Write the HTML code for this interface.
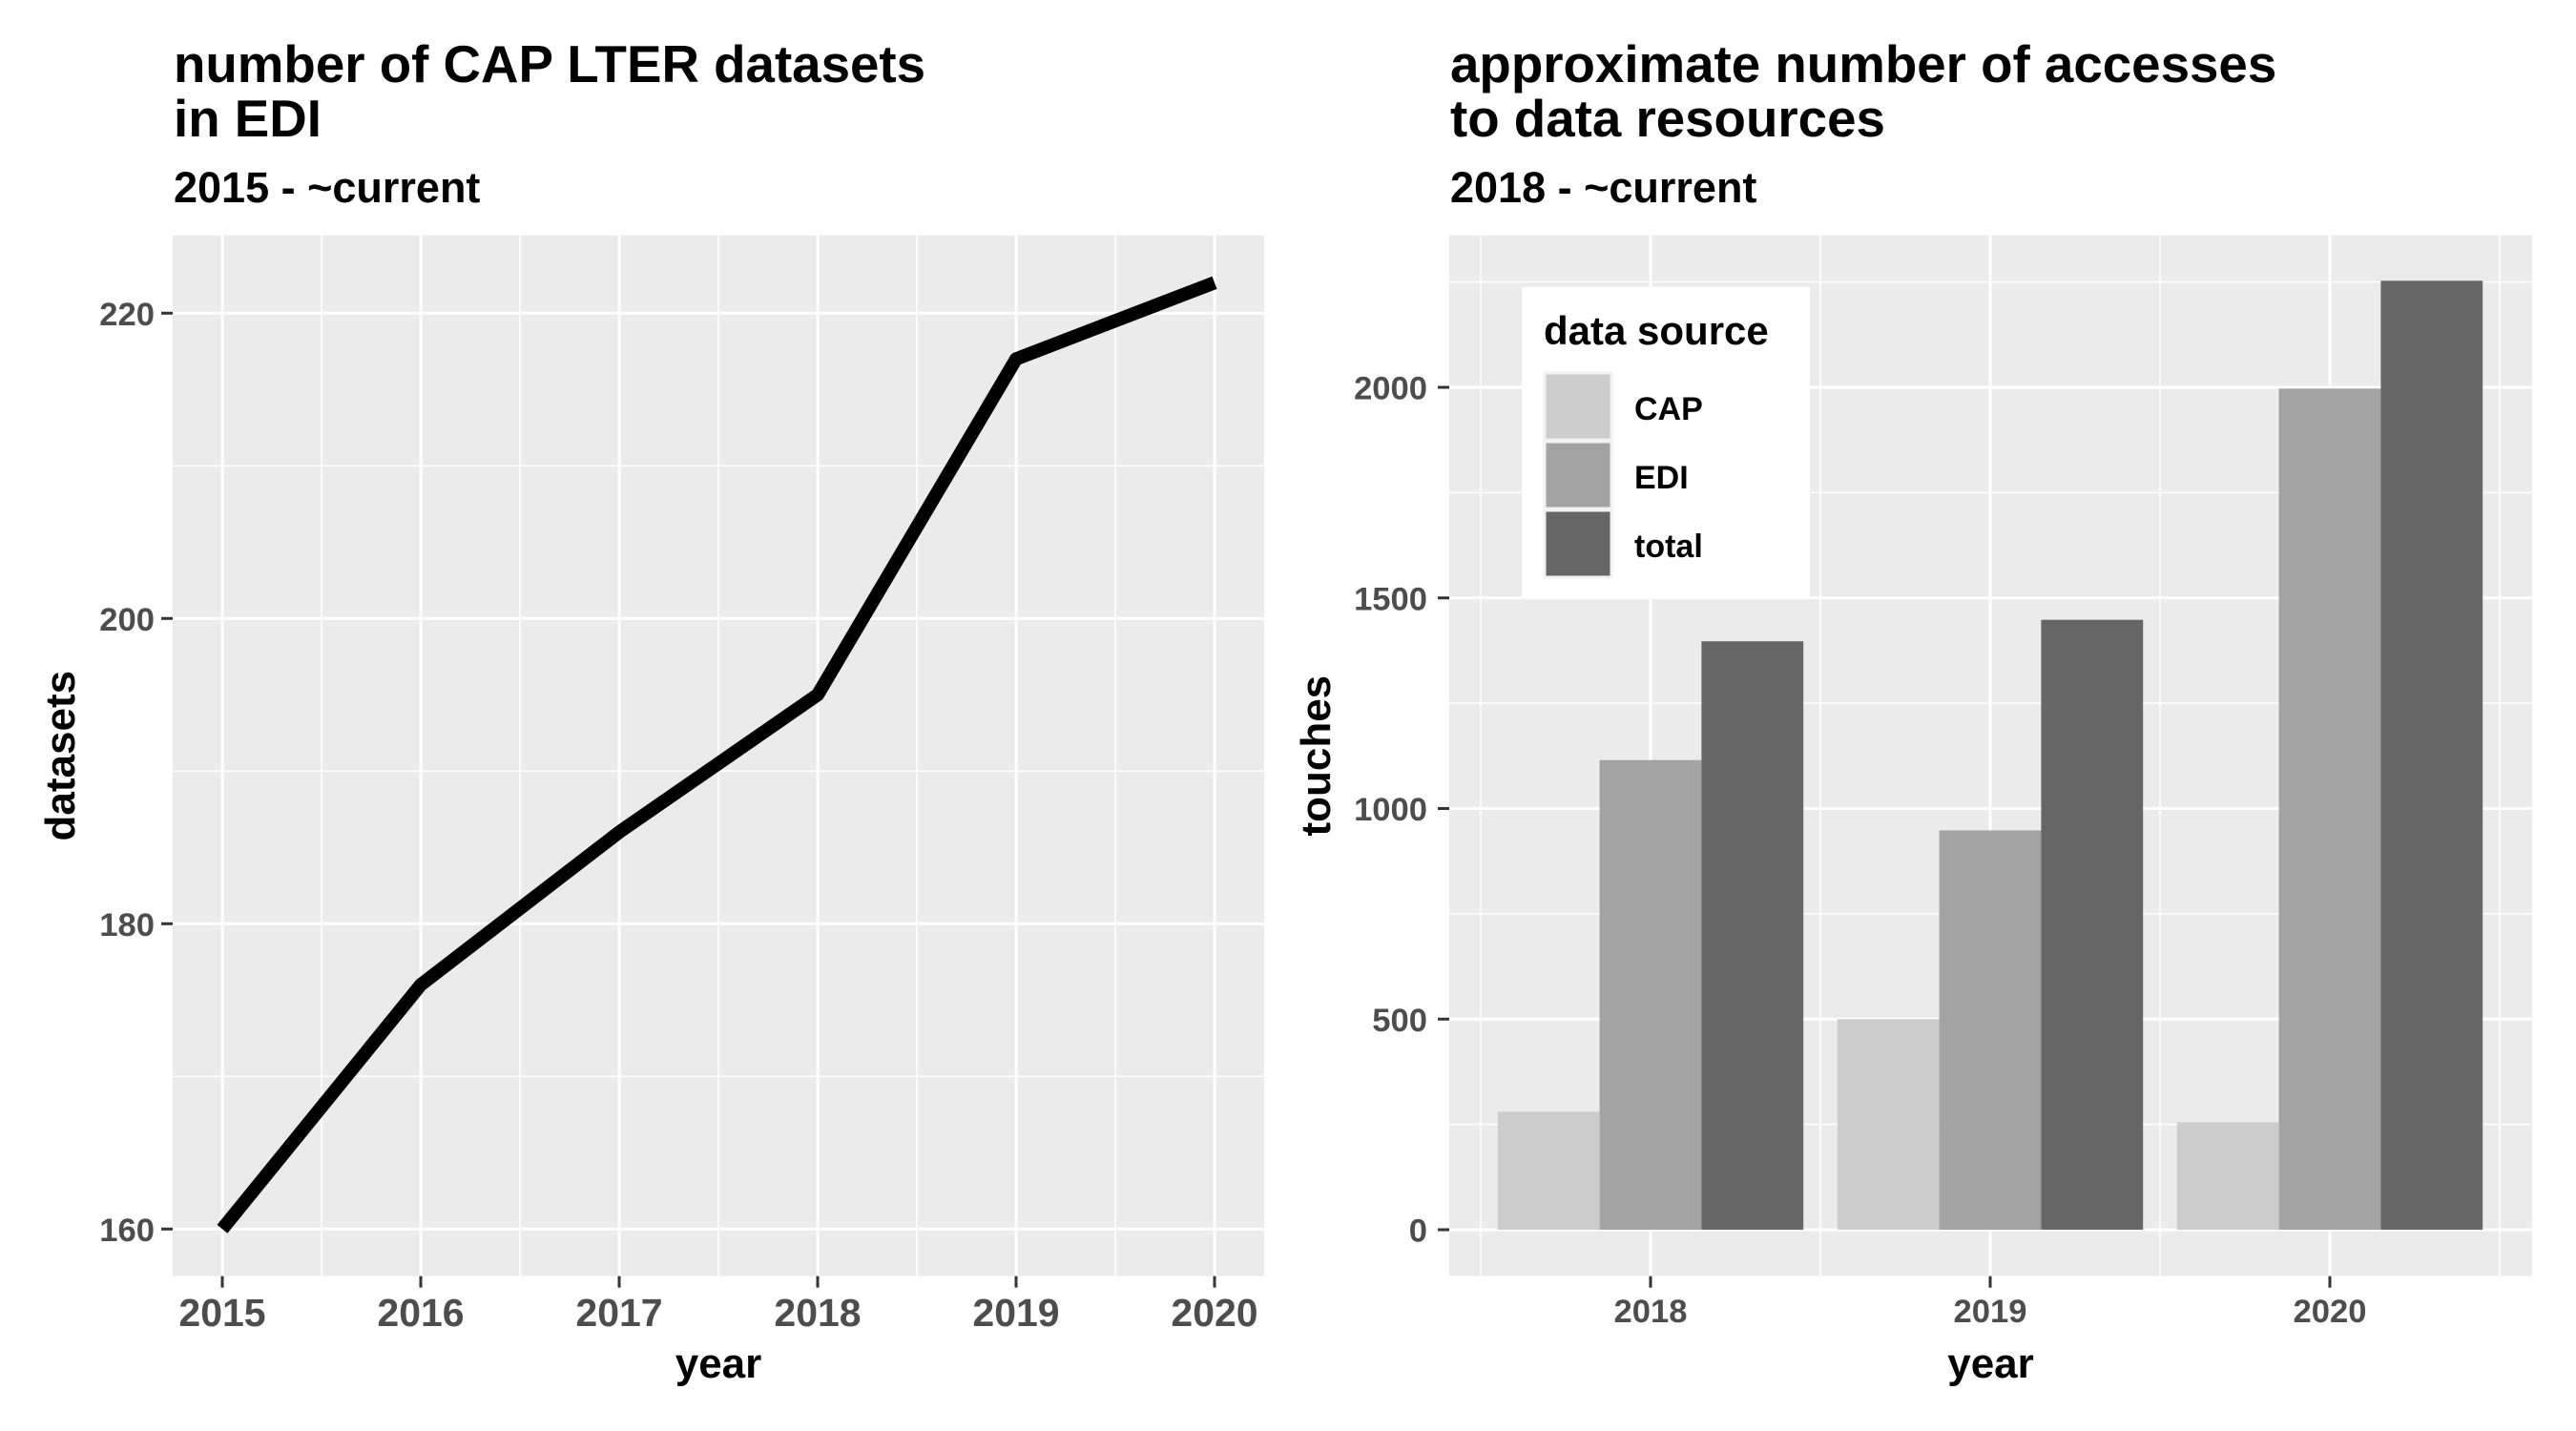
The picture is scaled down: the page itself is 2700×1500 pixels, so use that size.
<!DOCTYPE html>
<html><head><meta charset="utf-8"><style>
html,body{margin:0;padding:0;background:#fff;}
svg{display:block;font-family:"Liberation Sans",sans-serif;font-weight:bold;}
</style></head><body>
<svg id="fig" width="2700" height="1500" viewBox="0 0 2700 1500">
<g id="left"></g>
<g id="right"></g>
</svg>
<script>
const years1 = [2015, 2016, 2017, 2018, 2019, 2020];
const datasets = [160, 176, 186, 195, 217, 222];
const yTicks1 = [160, 180, 200, 220];
const years2 = ["2018", "2019", "2020"];
const sources = ["CAP", "EDI", "total"];
const capVals = [280, 500, 255];
const ediVals = [1115, 948, 1997];
const totalVals = [1397, 1448, 2253];
const yTicks2 = [0, 500, 1000, 1500, 2000];
const colors = ["#cccccc", "#a3a3a3", "#666666"];

const NS = "http://www.w3.org/2000/svg";
function mk(parent, tag, attrs, text) {
  const e = document.createElementNS(NS, tag);
  for (const k in attrs) e.setAttribute(k, attrs[k]);
  if (text !== undefined) e.textContent = text;
  parent.appendChild(e);
  return e;
}

// ---------- LEFT ----------
const L = document.getElementById('left');
const lp = {x0: 181, x1: 1325, y0: 246.7, y1: 1337.7};
const xs1 = v => 233 + (v - 2015) * 208;
const ys1 = v => 1288.3 - (v - 160) * 16.0;
let e;
e = mk(L, 'text', {x: 182, y: 86, 'font-size': 54.7}, 'number of CAP LTER datasets');
 
e = mk(L, 'text', {x: 182, y: 143, 'font-size': 54.7}, 'in EDI');
 
e = mk(L, 'text', {x: 182, y: 212, 'font-size': 45}, '2015 - ~current');
 
e = mk(L, 'rect', {x: lp.x0, y: lp.y0, width: lp.x1 - lp.x0, height: lp.y1 - lp.y0, fill: '#ebebeb'});
 
for (let i = 0; i < yTicks1.length - 1; i++) {
  const y = ys1((yTicks1[i] + yTicks1[i + 1]) / 2);
  mk(L, 'line', {x1: lp.x0, x2: lp.x1, y1: y, y2: y, stroke: '#fff', 'stroke-width': 1.5});
}
for (let i = 0; i < years1.length - 1; i++) {
  const x = xs1((years1[i] + years1[i + 1]) / 2);
  mk(L, 'line', {x1: x, x2: x, y1: lp.y0, y2: lp.y1, stroke: '#fff', 'stroke-width': 1.5});
}
yTicks1.forEach(t => {
  const y = ys1(t);
  mk(L, 'line', {x1: lp.x0, x2: lp.x1, y1: y, y2: y, stroke: '#fff', 'stroke-width': 3});
  mk(L, 'line', {x1: lp.x0 - 12, x2: lp.x0, y1: y, y2: y, stroke: '#333', 'stroke-width': 3});
  e = mk(L, 'text', {x: lp.x0 - 19, y: y + 12.5, 'font-size': 34.6, fill: '#4d4d4d', 'text-anchor': 'end'}, t);
   
});
years1.forEach(t => {
  const x = xs1(t);
  mk(L, 'line', {x1: x, x2: x, y1: lp.y0, y2: lp.y1, stroke: '#fff', 'stroke-width': 3});
  mk(L, 'line', {x1: x, x2: x, y1: lp.y1, y2: lp.y1 + 12, stroke: '#333', 'stroke-width': 3});
  e = mk(L, 'text', {x: x, y: 1390, 'font-size': 41, fill: '#4d4d4d', 'text-anchor': 'middle'}, t);
   
});
e = mk(L, 'polyline', {points: years1.map((y, i) => xs1(y) + ',' + ys1(datasets[i])).join(' '), fill: 'none', stroke: '#000', 'stroke-width': 14, 'stroke-linejoin': 'round'});
 
e = mk(L, 'text', {x: (lp.x0 + lp.x1) / 2, y: 1444, 'font-size': 44, 'text-anchor': 'middle'}, 'year');
 
e = mk(L, 'text', {x: 0, y: 0, 'font-size': 44, 'text-anchor': 'middle', transform: 'translate(78,' + (lp.y0 + lp.y1) / 2 + ') rotate(-90)'}, 'datasets');
 

// ---------- RIGHT ----------
const R = document.getElementById('right');
const rp = {x0: 1519, x1: 2654, y0: 246.7, y1: 1337.7};
const xs2 = i => 1730 + i * 356;
const ys2 = v => 1289 - v * 0.4415;
e = mk(R, 'text', {x: 1520, y: 86, 'font-size': 54.7}, 'approximate number of accesses');
 
e = mk(R, 'text', {x: 1520, y: 143, 'font-size': 54.7}, 'to data resources');
 
e = mk(R, 'text', {x: 1520, y: 212, 'font-size': 45}, '2018 - ~current');
 
e = mk(R, 'rect', {x: rp.x0, y: rp.y0, width: rp.x1 - rp.x0, height: rp.y1 - rp.y0, fill: '#ebebeb'});
 
for (let i = 0; i < yTicks2.length; i++) {
  const y = ys2(yTicks2[i] + 250);
  if (y > rp.y0) mk(R, 'line', {x1: rp.x0, x2: rp.x1, y1: y, y2: y, stroke: '#fff', 'stroke-width': 1.5});
}
for (let i = -1; i < years2.length; i++) {
  const x = xs2(i + 0.5);
  mk(R, 'line', {x1: x, x2: x, y1: rp.y0, y2: rp.y1, stroke: '#fff', 'stroke-width': 1.5});
}
yTicks2.forEach(t => {
  const y = ys2(t);
  mk(R, 'line', {x1: rp.x0, x2: rp.x1, y1: y, y2: y, stroke: '#fff', 'stroke-width': 3});
  mk(R, 'line', {x1: rp.x0 - 12, x2: rp.x0, y1: y, y2: y, stroke: '#333', 'stroke-width': 3});
  e = mk(R, 'text', {x: rp.x0 - 23, y: y + 12.5, 'font-size': 34.6, fill: '#4d4d4d', 'text-anchor': 'end'}, t);
   
});
years2.forEach((t, i) => {
  const x = xs2(i);
  mk(R, 'line', {x1: x, x2: x, y1: rp.y0, y2: rp.y1, stroke: '#fff', 'stroke-width': 3});
  mk(R, 'line', {x1: x, x2: x, y1: rp.y1, y2: rp.y1 + 12, stroke: '#333', 'stroke-width': 3});
  e = mk(R, 'text', {x: x, y: 1386, 'font-size': 34.6, fill: '#4d4d4d', 'text-anchor': 'middle'}, t);
   
});
const series = [capVals, ediVals, totalVals];
const bw = 356 * 0.9 / 3;
years2.forEach((t, i) => {
  series.forEach((vals, s) => {
    const x = xs2(i) - 1.5 * bw + s * bw;
    const y = ys2(vals[i]);
    const b = mk(R, 'rect', {x: x, y: y, width: bw, height: ys2(0) - y, fill: colors[s]});
    
    
  });
});
e = mk(R, 'text', {x: (rp.x0 + rp.x1) / 2, y: 1444, 'font-size': 44, 'text-anchor': 'middle'}, 'year');
 
e = mk(R, 'text', {x: 0, y: 0, 'font-size': 44, 'text-anchor': 'middle', transform: 'translate(1394,' + (rp.y0 + rp.y1) / 2 + ') rotate(-90)'}, 'touches');
 

// legend
const lg = mk(R, 'g', {});
 
mk(lg, 'rect', {x: 1595, y: 300.7, width: 302, height: 326, fill: '#fff'});
e = mk(lg, 'text', {x: 1618, y: 361, 'font-size': 42}, 'data source');
 
sources.forEach((s, i) => {
  const y = 390 + i * 72;
  const k = mk(lg, 'rect', {x: 1619, y: y + 1, width: 70, height: 70, fill: colors[i], stroke: '#f2f2f2', 'stroke-width': 3});
  
  
  const tx = mk(lg, 'text', {x: 1713, y: y + 50, 'font-size': 34}, s);
  
  
});
</script>
</body></html>
